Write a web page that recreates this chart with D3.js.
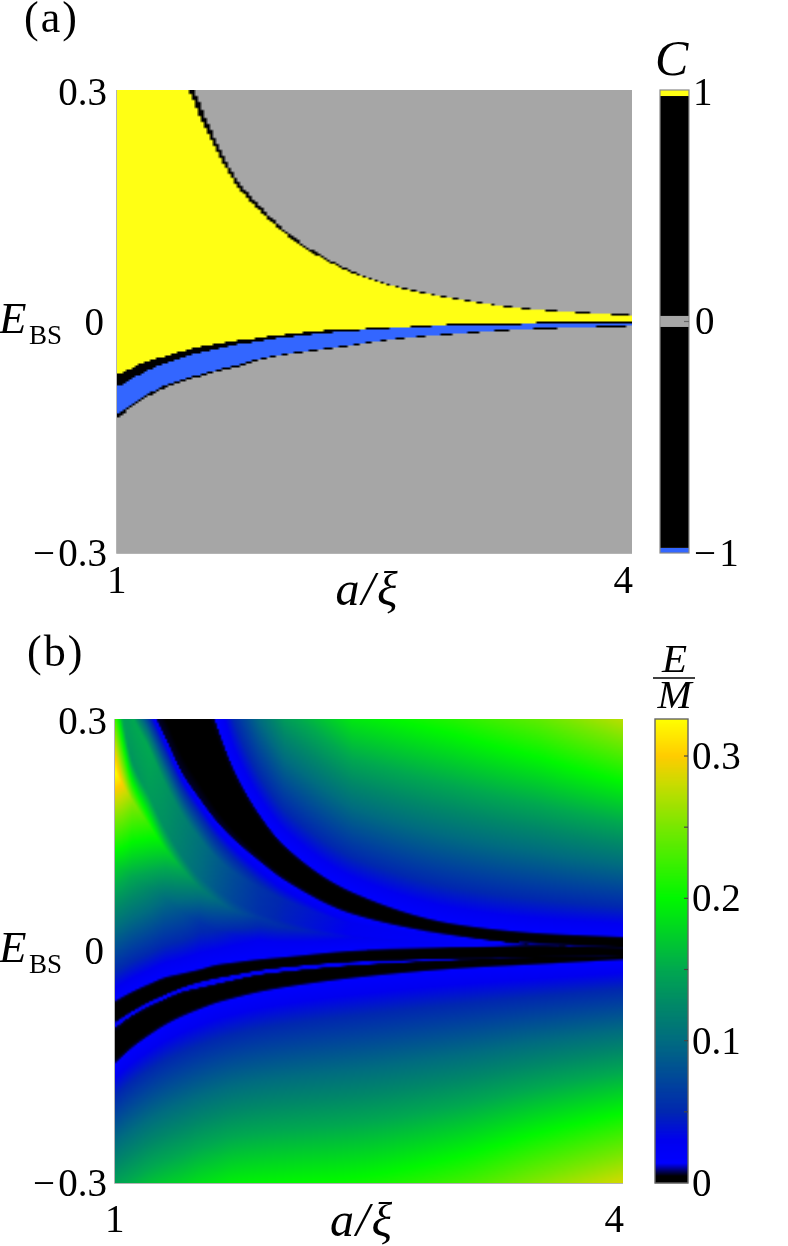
<!DOCTYPE html>
<html><head><meta charset="utf-8">
<script src="https://cdn.jsdelivr.net/npm/d3@7/dist/d3.min.js"></script>
<style>
html,body{margin:0;padding:0;background:#fff}
#wrap{position:relative;width:788px;height:1246px;overflow:hidden}
canvas{position:absolute;display:block}
svg{position:absolute;left:0;top:0}
text{font-family:"Liberation Serif",serif;fill:#000}
</style></head><body><div id="wrap"></div>
<script>
// ---------- Panel (a): Chern number regions, boundaries as E_BS at a/xi ----------
const aXs       = [1,1.15,1.3,1.45,1.6,1.7,1.8,1.9,2.05,2.25,2.45,2.65,3,3.35,3.7,4];
const aGrayTop  = [.75,.55,.40,.30,.2235,.1834,.1574,.1341,.1056,.0784,.0577,.0447,.0292,.0181,.0123,.0088];
const aYellowTop= [.72,.525,.38,.283,.213,.1756,.1509,.1289,.1017,.0757,.0561,.0434,.0281,.0170,.0112,.0077];
const aYellowBot= [-.0693,-.0538,-.0434,-.0343,-.0279,-.0246,-.0220,-.0188,-.0149,-.0110,-.0091,-.0071,-.0032,-.0017,0,.0013];
const aBlueTop  = [-.0849,-.0667,-.0525,-.0421,-.0343,-.0298,-.0266,-.0227,-.0188,-.0143,-.0110,-.0084,-.0052,-.0039,-.0019,-.0013];
const aBlueBot  = [-.1212,-.0978,-.0810,-.0706,-.0616,-.0564,-.0499,-.0447,-.0395,-.0337,-.0272,-.0214,-.0149,-.0097,-.0071,-.0052];
const aGrayBot  = [-.1252,-.1012,-.0840,-.0733,-.0640,-.0586,-.0520,-.0466,-.0411,-.0352,-.0284,-.0225,-.0160,-.0108,-.0082,-.0063];
const chernColors = {gray:"#a6a6a6",yellow:"#ffff14",blue:"#3366ff",black:"#000000"};
const cBarStarts = [-1,-.978,-.022,.024,.974];
const cBarEnds   = [-.978,-.022,.024,.974,1];
const cBarColors = ["#3366ff","#000000","#a6a6a6","#000000","#ffff14"];
const cTicks = [1,0,-1];

// ---------- Panel (b): band edges and value anchors at a/xi ----------
const bXs    = [1,1.1,1.2,1.3,1.4,1.5,1.6,1.7,1.85,2,2.4,3,3.5,4];
const bUTop  = [.713,.635,.558,.480,.415,.357,.291,.234,.176,.135,.075,.034,.022,.017];
const bULow  = [.422,.364,.321,.276,.230,.198,.169,.146,.118,.093,.049,.021,.008,.004];
const bRidge = [.385,.305,.262,.215,.175,.145,.120,.102,.082,.066,.036,.017,.0085,.0045];
const bCrease= [.350,.247,.202,.157,.122,.096,.079,.065,.049,.039,.022,.012,.008,.0045];
const bPeak  = [.232,.195,.163,.131,.105,.082,.066,.053,.043,.032,.018,.010,.0075,.0045];
const bKnee  = [.113,.096,.080,.066,.050,.038,.027,.021,.014,.010,.006,.006,.007,.0042];
const bM1    = [-.066,-.054,-.044,-.035,-.030,-.025,-.019,-.016,-.012,-.009,-.001,.004,.0065,.004];
const bM2    = [-.092,-.078,-.066,-.056,-.047,-.040,-.035,-.031,-.025,-.021,-.014,-.010,-.008,-.006];
const bL1    = [-.100,-.084,-.072,-.062,-.053,-.048,-.043,-.038,-.031,-.027,-.019,-.012,-.008,-.006];
const bL2    = [-.144,-.124,-.108,-.094,-.083,-.074,-.066,-.060,-.052,-.046,-.034,-.022,-.016,-.010];
const vTop   = [.22,.14,.12,.10,.07,.04,.012,.05,.10,.14,.19,.215,.24,.275];
const vBottom= [.145,.155,.165,.172,.178,.185,.19,.195,.198,.20,.205,.225,.255,.285];
const vRidge = [.13,.15,.15,.135,.12,.105,.09,.076,.058,.048,.03,.02,.01,.007];
const vCrease= [.16,.135,.14,.13,.115,.10,.085,.072,.056,.046,.028,.018,.01,.007];
const vPeak  = [.33,.26,.22,.18,.15,.12,.10,.083,.062,.052,.032,.02,.012,.008];
const vKnee  = [.18,.15,.125,.10,.08,.06,.05,.04,.03,.028,.02,.015,.01,.007];
const vSliver= [.02,.02,.02,.02,.02,.02,.02,.02,.02,.02,.018,.012,.004,.004];
const edgeValue = .0065, insideValue = 0, fringeValue = .016, fringeWidth = .003;
const cmapStops  = [0,.005,.014,.03,.05,.1,.125,.15,.175,.2,.25,.28,.3,.326];
const cmapColors = ["#000000","#000000","#0000ff","#0000f0","#0028b0","#006c80","#008868","#00a850","#00d028","#00f800","#78e800","#c8dc00","#ffcc00","#ffff00"];
const eTicks = [.3,.2,.1,0];
const eMinor = [.05,.15,.25];

const xTicks = [1,4];
const yTicks = [.3,0,-.3];
const fmtY = v => v===0 ? "0" : (v<0 ? "\u2212\u200A" : "") + Math.abs(v).toFixed(1);

// ---------- layout ----------
const A = {l:117,r:632,t:90,b:553,cols:172,rows:232};
const B = {l:115,r:623,t:719,b:1183,cols:254,rows:232};

const wrap = d3.select("#wrap");
function makeCanvas(P){
  const c = wrap.append("canvas").attr("width",P.cols).attr("height",P.rows)
    .style("left",P.l+"px").style("top",P.t+"px")
    .style("width",(P.r-P.l)+"px").style("height",(P.b-P.t)+"px");
  return c.node().getContext("2d");
}
// Monotone cubic reading of a curve sampled at xs (no overshoot between samples)
function smoothAt(xs,ys){
  const n=xs.length, h=[], s=[], m=new Array(n);
  for(let i=0;i<n-1;i++){h[i]=xs[i+1]-xs[i]; s[i]=(ys[i+1]-ys[i])/h[i];}
  m[0]=s[0]; m[n-1]=s[n-2];
  for(let i=1;i<n-1;i++){
    m[i]= s[i-1]*s[i]<=0 ? 0 : (h[i-1]+h[i])*3/((2*h[i]+h[i-1])/s[i-1]+(h[i]+2*h[i-1])/s[i]);
  }
  return a=>{
    const i=Math.max(0,Math.min(n-2,d3.bisectRight(xs,a)-1));
    const t=(a-xs[i])/h[i], t2=t*t, t3=t2*t;
    return (2*t3-3*t2+1)*ys[i]+(t3-2*t2+t)*h[i]*m[i]+(-2*t3+3*t2)*ys[i+1]+(t3-t2)*h[i]*m[i+1];
  };
}

// Panel (a) raster
(function(){
  const ctx = makeCanvas(A);
  const col = d3.scaleLinear().domain([0,A.cols]).range([1,4]);
  const row = d3.scaleLinear().domain([0,A.rows]).range([.3,-.3]);
  const f = [aGrayTop,aYellowTop,aYellowBot,aBlueTop,aBlueBot,aGrayBot].map(arr=>smoothAt(aXs,arr));
  for(let i=0;i<A.cols;i++){
    const a = col(i+.5);
    const [g1,y1,y2,b1,b2,g2] = f.map(s=>s(a));
    for(let j=0;j<A.rows;j++){
      const e = row(j+.5);
      let c = chernColors.gray;
      if(e<=g1 && e>g2){
        if(e>y1) c=chernColors.black;
        else if(e>y2) c=chernColors.yellow;
        else if(e>b1) c=chernColors.black;
        else if(e>b2) c=chernColors.blue;
        else c=chernColors.black;
      }
      ctx.fillStyle=c;
      ctx.fillRect(i,j,1,1);
    }
  }
})();

const cmap = d3.scaleLinear().domain(cmapStops).range(cmapColors).clamp(true);

// Panel (b) raster
(function(){
  const ctx = makeCanvas(B);
  const col = d3.scaleLinear().domain([0,B.cols]).range([1,4]);
  const row = d3.scaleLinear().domain([0,B.rows]).range([.3,-.3]);
  const series = {bUTop,bULow,bRidge,bCrease,bPeak,bKnee,bM1,bM2,bL1,bL2,vTop,vBottom,vRidge,vCrease,vPeak,vKnee,vSliver};
  const fn = {};
  Object.keys(series).forEach(k=>{fn[k]=smoothAt(bXs,series[k]);});
  const lin = k=>d3.scaleLinear().domain(bXs).range(series[k]);
  const fTop = lin("vTop"), fRidge=lin("vRidge"), fCrease=lin("vCrease"), fPeak=lin("vPeak"), fKnee=lin("vKnee"), fSliver=lin("vSliver");
  for(let i=0;i<B.cols;i++){
    const a = col(i+.5);
    const uT=fn.bUTop(a),uL=fn.bULow(a),rd=fn.bRidge(a),cr=fn.bCrease(a),pk=fn.bPeak(a),kn=fn.bKnee(a),
          m1=fn.bM1(a),m2=fn.bM2(a),l1=fn.bL1(a),l2=fn.bL2(a);
    const anchors = [
      [-.3,fn.vBottom(a)],[l2-fringeWidth,fringeValue],[l2,edgeValue],[(l2+l1)/2,insideValue],[l1,edgeValue],
      [l1+(m2-l1)/4,fSliver(a)],[l1+3*(m2-l1)/4,fSliver(a)],[m2,edgeValue],[(m2+m1)/2,insideValue],[m1,edgeValue],
      [kn,fKnee(a)],[pk,fPeak(a)],[cr,fCrease(a)],[rd,fRidge(a)],
      [uL,edgeValue],[(uL+uT)/2,insideValue],[uT,edgeValue],[uT+fringeWidth,fringeValue]
    ];
    if(kn-m1>2*fringeWidth) anchors.push([m1+fringeWidth,fringeValue]);
    if(uL-rd>2*fringeWidth) anchors.push([uL-fringeWidth,fringeValue]);
    if(uT<.3) anchors.push([.3,fTop(a)]);
    anchors.sort((p,q)=>p[0]-q[0]);
    const prof = d3.scaleLinear().domain(anchors.map(p=>p[0])).range(anchors.map(p=>p[1])).clamp(true);
    for(let j=0;j<B.rows;j++){
      ctx.fillStyle = cmap(prof(row(j+.5)));
      ctx.fillRect(i,j,1,1);
    }
  }
})();

// ---------- vector overlay ----------
const svg = wrap.append("svg").attr("width",788).attr("height",1246);
const FS = 39;
function label(x,y,t,o={}){
  const s = svg.append("text").attr("x",x).attr("y",y)
    .attr("text-anchor",o.anchor||"start")
    .attr("font-size",o.size||FS)
    .attr("font-style",o.italic?"italic":"normal").text(t);
  if(o.spacing) s.attr("letter-spacing",o.spacing);
  return s;
}
function panelFrame(P,dy,labelDy){
  const x = d3.scaleLinear().domain([1,4]).range([P.l,P.r]);
  const y = d3.scaleLinear().domain([-.3,.3]).range([P.b,P.t]);
  svg.append("path").attr("d",`M${P.l-.5},${P.t}V${P.b+.5}H${P.r}`).attr("fill","none").attr("stroke","#b4b4b4").attr("stroke-width",1);
  yTicks.forEach(v=>{
    const offs = v===.3 ? 15 : 13;
    label(v===0?104:107,y(v)+offs,fmtY(v),{anchor:"end"});
  });
  xTicks.forEach((v,i)=>{
    if(i===0) label(P.l-10,P.b+dy,String(v));
    else label(x(v)+1,P.b+dy,String(v),{anchor:"end"});
  });
  // E_BS
  const base = y(0)+11;
  label(-1,base,"E",{italic:true,size:45});
  label(29,base+11,"BS",{size:27});
  // a/xi
  label((P.l+P.r)/2-7,P.b+labelDy,"a/\u03BE",{italic:true,anchor:"middle",size:48,spacing:2});
}
panelFrame(A,40,52);
panelFrame(B,49,53);
label(24,32,"(a)",{size:44,spacing:2});
label(27,666,"(b)",{size:44,spacing:2});

// Colour bar (a)
(function(){
  const y = d3.scaleLinear().domain([-1,1]).range([553,90]);
  const g = svg.append("g");
  g.selectAll("rect").data(cBarStarts).join("rect")
    .attr("x",660).attr("width",29)
    .attr("y",(d,i)=>y(cBarEnds[i]))
    .attr("height",(d,i)=>y(d)-y(cBarEnds[i]))
    .attr("fill",(d,i)=>cBarColors[i]);
  g.append("rect").attr("x",660).attr("width",29).attr("y",90).attr("height",463)
    .attr("fill","none").attr("stroke","#8a8a8a").attr("stroke-width",1.2);
  g.append("line").attr("x1",684).attr("x2",689).attr("y1",y(0)).attr("y2",y(0)).attr("stroke","#666").attr("stroke-width",1.2);
  cTicks.forEach(v=>{
    label(v<0?694:(v===0?695:693),y(v)+(v===0?12:(v===1?15:13)),v<0?"\u2212\u200A1":String(v));
  });
  label(655,75,"C",{italic:true,size:50});
})();

// Colour bar (b)
(function(){
  const y = d3.scaleLinear().domain([0,.326]).range([1183,719]);
  const levels = d3.range(0,464).map(k=>y.invert(1183-k-.5));
  svg.append("g").selectAll("rect").data(levels).join("rect")
    .attr("x",655).attr("width",33)
    .attr("y",d=>Math.round(y(d)-.5)).attr("height",1.2)
    .attr("fill",d=>cmap(d));
  svg.append("rect").attr("x",655).attr("width",33).attr("y",719).attr("height",464)
    .attr("fill","none").attr("stroke","#666").attr("stroke-width",1.4);
  eTicks.concat(eMinor).forEach(v=>{
    if(v===0) return;
    svg.append("line").attr("x1",684).attr("x2",688).attr("y1",y(v)).attr("y2",y(v)).attr("stroke","#444").attr("stroke-width",1.2);
  });
  eTicks.forEach(v=>{
    label(692,y(v)+13,v===0?"0":v.toFixed(1));
  });
  label(674.5,672,"E",{italic:true,anchor:"middle",size:41});
  svg.append("line").attr("x1",653).attr("x2",695).attr("y1",678).attr("y2",678).attr("stroke","#000").attr("stroke-width",1.6);
  label(674.5,708,"M",{italic:true,anchor:"middle",size:41});
})();
</script></body></html>
